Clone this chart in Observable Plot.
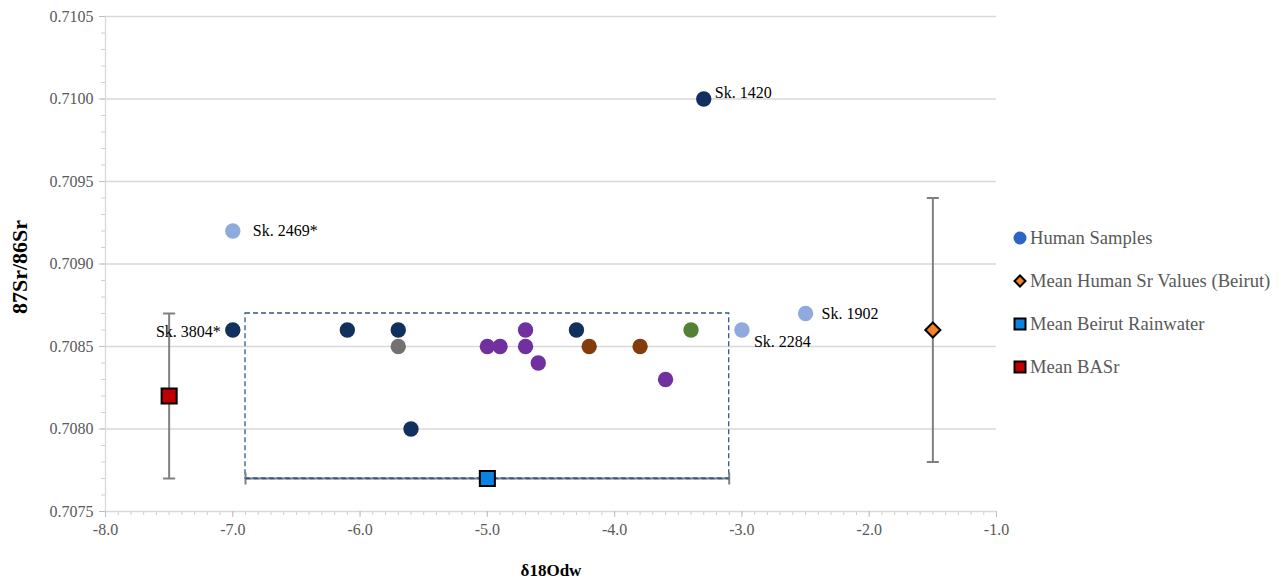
<!DOCTYPE html>
<html>
<head>
<meta charset="utf-8">
<script src="https://cdn.jsdelivr.net/npm/d3@7"></script>
<script src="https://cdn.jsdelivr.net/npm/@observablehq/plot@0.6"></script>
<style>
  html, body { margin: 0; padding: 0; background: #fff; }
  #wrap { position: relative; width: 1282px; height: 581px; font-family: "Liberation Serif", "Times New Roman", serif; }
  #wrap svg, #wrap svg text { font-family: "Liberation Serif", "Times New Roman", serif !important; }
  #legend { position: absolute; left: 1012px; top: 216px; color: #595959; font-size: 18.6px; }
  #legend .item { display: flex; align-items: center; height: 43px; }
  #legend svg { margin-right: 2px; }
</style>
</head>
<body>
<div id="wrap"><div id="legend"></div></div>
<script>
// ---- data ----
const humanX = [-7.0, -6.1, -5.7, -5.6, -4.3, -3.3, -5.7, -5.0, -4.9, -4.7, -4.7, -4.6, -3.6, -4.2, -3.8, -3.4, -7.0, -3.0, -2.5];
const humanY = [0.7086, 0.7086, 0.7086, 0.7080, 0.7086, 0.7100, 0.7085, 0.7085, 0.7085, 0.7086, 0.7085, 0.7084, 0.7083, 0.7085, 0.7085, 0.7086, 0.7092, 0.7086, 0.7087];
const humanGroup = ["A", "A", "A", "A", "A", "A", "B", "C", "C", "C", "C", "C", "C", "D", "D", "E", "F", "F", "F"];
const humanLabel = ["Sk. 3804*", "", "", "", "", "Sk. 1420", "", "", "", "", "", "", "", "", "", "", "Sk. 2469*", "Sk. 2284", "Sk. 1902"];

const groups = ["A", "B", "C", "D", "E", "F"];
const groupColors = ["#12305E", "#767171", "#7030A0", "#843C0C", "#548235", "#8FAADC"];

// means with error ranges
const basrX = [-7.5], basrY = [0.7082], basrYlo = [0.7077], basrYhi = [0.7087];
const beirutX = [-1.5], beirutY = [0.7086], beirutYlo = [0.7078], beirutYhi = [0.7094];
const rainX = [-5.0], rainY = [0.7077], rainXlo = [-6.9], rainXhi = [-3.1];

// dashed range box
const boxX = [-6.9, -3.1];
const boxY = [0.7077, 0.7087];

const xTicks = [-8, -7, -6, -5, -4, -3, -2, -1];
const xMinor = d3.range(-80, -9, 1).map(d => d / 10);
const yTicks = [0.7075, 0.7080, 0.7085, 0.7090, 0.7095, 0.7100, 0.7105];
const yMinor = d3.range(70750, 71051, 10).map(d => d / 100000);

const legendItems = ["Human Samples", "Mean Human Sr Values (Beirut)", "Mean Beirut Rainwater", "Mean BASr"];

// ---- build ----
const humans = humanX.map((x, i) => ({x, y: humanY[i], g: humanGroup[i], label: humanLabel[i]}));
const basr = basrX.map((x, i) => ({x, y: basrY[i], lo: basrYlo[i], hi: basrYhi[i]}));
const beirut = beirutX.map((x, i) => ({x, y: beirutY[i], lo: beirutYlo[i], hi: beirutYhi[i]}));
const rain = rainX.map((x, i) => ({x, y: rainY[i], lo: rainXlo[i], hi: rainXhi[i]}));
const box = [{x1: boxX[0], x2: boxX[1], y1: boxY[0], y2: boxY[1]}];

const hCap = {draw(ctx, size) { const w = 6; ctx.moveTo(-w, 0); ctx.lineTo(w, 0); }};
const vCap = {draw(ctx, size) { const h = 6; ctx.moveTo(0, -h); ctx.lineTo(0, h); }};

const barColor = "#808080";
const axisColor = "#bfbfbf";
const font = "Liberation Serif";

const byLabel = name => humans.filter(d => d.label === name);

const chart = Plot.plot({
  width: 1282,
  height: 581,
  marginLeft: 105,
  marginRight: 286,
  marginTop: 16,
  marginBottom: 70,
  style: {fontFamily: font, fontSize: "16px", color: "#595959", background: "#fff"},
  x: {domain: [-8, -1]},
  y: {domain: [0.7075, 0.7105]},
  color: {domain: groups, range: groupColors},
  marks: [
    Plot.ruleY(yTicks.slice(1), {stroke: "#d9d9d9", strokeWidth: 1.3}),
    Plot.ruleY([0.7075], {stroke: "#d9d9d9", strokeWidth: 1.3}),
    Plot.ruleX([-8], {stroke: "#d9d9d9", strokeWidth: 1.3}),
    Plot.axisY({ticks: yMinor, tickSize: 4, tickFormat: () => "", stroke: "#d0d0d0", label: null}),
    Plot.axisY({ticks: yTicks, tickSize: 6, tickPadding: 6, tickFormat: d => d.toFixed(4), stroke: axisColor, fill: "#595959", fontSize: 16, fontFamily: font, label: null}),
    Plot.axisX({ticks: xMinor, tickSize: 4, tickFormat: () => "", stroke: "#d0d0d0", label: null}),
    Plot.axisX({ticks: xTicks, tickSize: 6, tickPadding: 6, tickFormat: d => d.toFixed(1), stroke: axisColor, fill: "#595959", fontSize: 16, fontFamily: font, label: null}),
    // dashed box
    Plot.rect(box, {x1: "x1", x2: "x2", y1: "y1", y2: "y2", fill: "none", stroke: "#2F5597", strokeWidth: 1.3, strokeDasharray: "5,3"}),
    // error bars
    Plot.link(basr, {x1: "x", x2: "x", y1: "lo", y2: "hi", stroke: barColor, strokeWidth: 2}),
    Plot.dot(basr, {x: "x", y: "lo", symbol: hCap, stroke: barColor, strokeWidth: 2, r: 4}),
    Plot.dot(basr, {x: "x", y: "hi", symbol: hCap, stroke: barColor, strokeWidth: 2, r: 4}),
    Plot.link(beirut, {x1: "x", x2: "x", y1: "lo", y2: "hi", stroke: barColor, strokeWidth: 2}),
    Plot.dot(beirut, {x: "x", y: "lo", symbol: hCap, stroke: barColor, strokeWidth: 2, r: 4}),
    Plot.dot(beirut, {x: "x", y: "hi", symbol: hCap, stroke: barColor, strokeWidth: 2, r: 4}),
    Plot.link(rain, {x1: "lo", x2: "hi", y1: "y", y2: "y", stroke: barColor, strokeWidth: 2}),
    Plot.dot(rain, {x: "lo", y: "y", symbol: vCap, stroke: barColor, strokeWidth: 2, r: 4}),
    Plot.dot(rain, {x: "hi", y: "y", symbol: vCap, stroke: barColor, strokeWidth: 2, r: 4}),
    Plot.link(rain, {x1: "lo", x2: "hi", y1: "y", y2: "y", stroke: "#2F5597", strokeWidth: 1.3, strokeDasharray: "5,3"}),
    // human samples
    Plot.dot(humans, {x: "x", y: "y", fill: "g", r: 7.7}),
    // means
    Plot.dot(basr, {x: "x", y: "y", symbol: "square", r: 8.5, fill: "#C00000", stroke: "#000", strokeWidth: 2}),
    Plot.dot(rain, {x: "x", y: "y", symbol: "square", r: 8.5, fill: "#0A84E3", stroke: "#000", strokeWidth: 2}),
    Plot.dot(beirut, {x: "x", y: "y", symbol: "diamond2", r: 6.8, fill: "#F5822A", stroke: "#000", strokeWidth: 2}),
    // sample labels
    Plot.text(byLabel("Sk. 1420"), {x: "x", y: "y", text: "label", textAnchor: "start", dx: 11, dy: -6, fill: "#000", fontSize: 16, fontFamily: font}),
    Plot.text(byLabel("Sk. 2469*"), {x: "x", y: "y", text: "label", textAnchor: "start", dx: 20, dy: 0, fill: "#000", fontSize: 16, fontFamily: font}),
    Plot.text(byLabel("Sk. 3804*"), {x: "x", y: "y", text: "label", textAnchor: "end", dx: -12, dy: 2, fill: "#000", fontSize: 16, fontFamily: font}),
    Plot.text(byLabel("Sk. 1902"), {x: "x", y: "y", text: "label", textAnchor: "start", dx: 16, dy: 0, fill: "#000", fontSize: 16, fontFamily: font}),
    Plot.text(byLabel("Sk. 2284"), {x: "x", y: "y", text: "label", textAnchor: "start", dx: 12, dy: 12, fill: "#000", fontSize: 16, fontFamily: font}),
    // axis titles
    Plot.text(["δ18Odw"], {frameAnchor: "bottom", dy: 64, fontWeight: "bold", fontSize: 17, fill: "#000", fontFamily: font}),
    Plot.text(["87Sr/86Sr"], {frameAnchor: "left", textAnchor: "middle", dx: -86, dy: 3, rotate: -90, fontWeight: "bold", fontSize: 22, fill: "#000", fontFamily: font})
  ]
});
document.getElementById("wrap").prepend(chart);

// legend
const legendMarkers = [
  '<svg width="16" height="16"><circle cx="8" cy="8" r="6.5" fill="#2E64C4"/></svg>',
  '<svg width="16" height="16"><path d="M8 2.5 L13.5 8 L8 13.5 L2.5 8 Z" fill="#F5822A" stroke="#000" stroke-width="2"/></svg>',
  '<svg width="16" height="16"><rect x="2.5" y="2.5" width="11" height="11" fill="#0A84E3" stroke="#000" stroke-width="2"/></svg>',
  '<svg width="16" height="16"><rect x="2.5" y="2.5" width="11" height="11" fill="#C00000" stroke="#000" stroke-width="2"/></svg>'
];
const legend = document.getElementById("legend");
legendItems.forEach((name, i) => {
  const div = document.createElement("div");
  div.className = "item";
  div.innerHTML = legendMarkers[i] + "<span>" + name + "</span>";
  legend.appendChild(div);
});
</script>
</body>
</html>
